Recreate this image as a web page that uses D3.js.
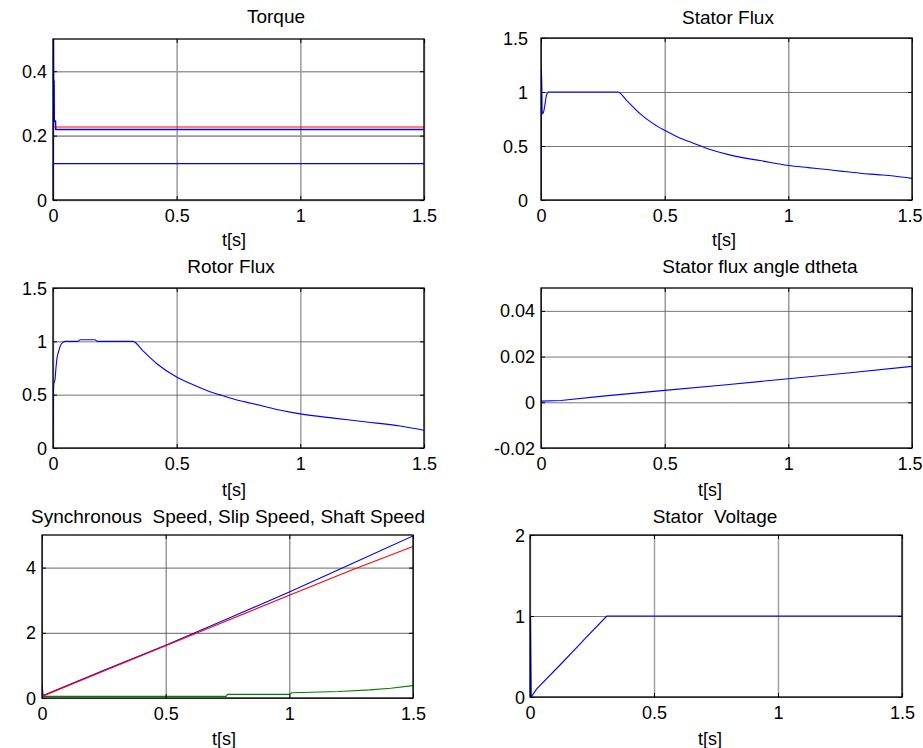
<!DOCTYPE html>
<html>
<head>
<meta charset="utf-8">
<script src="https://cdn.jsdelivr.net/npm/d3@7"></script>
<style>
  html, body { margin: 0; padding: 0; background: #ffffff; }
  svg { display: block; font-family: "Liberation Sans", Arial, Helvetica, sans-serif; }
  .pre { white-space: pre; }
</style>
</head>
<body>
<svg id="chart" width="923" height="748"></svg>
<script>
// ---------------- DATA ----------------
const timeDomain = [0, 1.5];
const xTicks = [0, 0.5, 1, 1.5];
const xTickLabels = ["0", "0.5", "1", "1.5"];
const xAxisLabel = "t[s]";

// Torque
const torqueTime = [0, 0.001, 0.002, 0.004, 0.005, 0.010, 0.011, 1.5];
const torqueElectromagnetic = [0, 0.6, 0.37, 0.37, 0.245, 0.245, 0.219, 0.219];
const torqueFlatTime = [0, 1.5];
const torqueReference = [0.2265, 0.2265];
const torqueLoad = [0.113, 0.113];
const torqueYTicks = [0, 0.2, 0.4];
const torqueYLabels = ["0", "0.2", "0.4"];

// Stator flux
const statorFluxTime = [0, 0.001, 0.003, 0.005, 0.008, 0.012, 0.017, 0.022, 0.03, 0.31, 0.347, 0.40, 0.455, 0.5, 0.55, 0.616, 0.68, 0.75, 0.82, 0.886, 1.0, 1.08, 1.156, 1.22, 1.29, 1.36, 1.426, 1.5];
const statorFlux = [0, 1.22, 1.1, 0.8, 0.8, 0.83, 0.9, 0.97, 1.0, 1.0, 0.92, 0.8, 0.705, 0.645, 0.585, 0.526, 0.47, 0.425, 0.39, 0.365, 0.32, 0.3, 0.282, 0.265, 0.248, 0.235, 0.222, 0.2];
const fluxYTicks = [0, 0.5, 1, 1.5];
const fluxYLabels = ["0", "0.5", "1", "1.5"];

// Rotor flux
const rotorFluxTime = [0, 0.001, 0.003, 0.008, 0.012, 0.016, 0.022, 0.03, 0.04, 0.05, 0.1, 0.11, 0.17, 0.18, 0.323, 0.366, 0.42, 0.5, 0.56, 0.622, 0.68, 0.73, 0.8, 0.864, 0.93, 1.0, 1.134, 1.268, 1.403, 1.5];
const rotorFlux = [0, 0.38, 0.6, 0.64, 0.75, 0.84, 0.9, 0.96, 0.99, 1.0, 1.0, 1.015, 1.015, 1.0, 1.0, 0.905, 0.79, 0.665, 0.6, 0.54, 0.495, 0.46, 0.42, 0.385, 0.35, 0.32, 0.28, 0.244, 0.206, 0.166];

// Stator flux angle dtheta
const dthetaTime = [0, 0.08, 0.25, 0.5, 0.75, 1.0, 1.25, 1.5];
const dtheta = [0.0005, 0.0008, 0.0027, 0.0052, 0.0077, 0.0103, 0.0129, 0.0157];
const dthetaYTicks = [-0.02, 0, 0.02, 0.04];
const dthetaYLabels = ["-0.02", "0", "0.02", "0.04"];

// Speeds
const syncSpeedTime = [0, 0.001, 0.004, 0.25, 0.5, 0.75, 1.0, 1.25, 1.5];
const syncSpeed = [0, 0.38, 0.08, 0.85, 1.62, 2.43, 3.25, 4.11, 4.97];
const shaftSpeedTime = [0, 0.25, 0.5, 0.75, 1.0, 1.25, 1.5];
const shaftSpeed = [0.05, 0.83, 1.6, 2.38, 3.15, 3.92, 4.65];
const slipSpeedTime = [0, 0.745, 0.75, 1.0, 1.01, 1.2, 1.325, 1.41, 1.5];
const slipSpeed = [0.05, 0.05, 0.11, 0.11, 0.16, 0.2, 0.25, 0.3, 0.38];
const speedYTicks = [0, 2, 4];
const speedYLabels = ["0", "2", "4"];

// Stator voltage
const voltageTime = [0, 0.001, 0.002, 0.004, 0.005, 0.027, 0.121, 0.21, 0.215, 0.31, 1.5];
const statorVoltage = [0, 1.0, 1.0, 0.33, 0.0, 0.1, 0.395, 0.68, 0.7, 1.0, 1.0];
const voltageYTicks = [0, 1, 2];
const voltageYLabels = ["0", "1", "2"];

// ---------------- LAYOUT ----------------
const panels = [
  { title: "Torque", box: [53, 39, 424, 200], yDomain: [0, 0.5], yTicks: torqueYTicks, yLabels: torqueYLabels,
    titleX: 276, titleY: 23, xlabX: 234, xlabY: 246, yGap: 6, gridV: "#a0a0a0", gridVW: 1.6, gridH: "#9a9a9a", gridHW: 1.6,
    series: [
      { t: torqueFlatTime, v: torqueLoad, color: "#0000ff" },
      { t: torqueTime, v: torqueElectromagnetic, color: "#0000ff", width: 1.6 },
      { t: torqueFlatTime, v: torqueReference, color: "#ff0000" }
    ] },
  { title: "Stator Flux", box: [541, 38, 912, 200], yDomain: [0, 1.5], yTicks: fluxYTicks, yLabels: fluxYLabels,
    titleX: 728, titleY: 24, xlabX: 724, xlabY: 246, yGap: 13, gridV: "#555555", gridVW: 0.9, gridH: "#777777", gridHW: 1.0,
    series: [ { t: statorFluxTime, v: statorFlux, color: "#0000ff", smooth: true } ] },
  { title: "Rotor Flux", box: [53, 288, 424, 448], yDomain: [0, 1.5], yTicks: fluxYTicks, yLabels: fluxYLabels,
    titleX: 231, titleY: 273, xlabX: 234, xlabY: 496, yGap: 6, gridV: "#a0a0a0", gridVW: 1.5, gridH: "#666666", gridHW: 0.9,
    series: [ { t: rotorFluxTime, v: rotorFlux, color: "#0000ff", smooth: true } ] },
  { title: "Stator flux angle dtheta", box: [541, 288, 912, 448], yDomain: [-0.02, 0.05], yTicks: dthetaYTicks, yLabels: dthetaYLabels,
    titleX: 760, titleY: 273, xlabX: 710, xlabY: 496, yGap: 6, gridV: "#555555", gridVW: 0.9, gridH: "#666666", gridHW: 0.9,
    series: [ { t: dthetaTime, v: dtheta, color: "#0000ff" } ] },
  { title: "Synchronous  Speed, Slip Speed, Shaft Speed", box: [42, 535, 413, 698], yDomain: [0, 5], yTicks: speedYTicks, yLabels: speedYLabels,
    titleX: 228, titleY: 523, xlabX: 224, xlabY: 745, yGap: 6, gridV: "#555555", gridVW: 0.9, gridH: "#555555", gridHW: 0.9,
    series: [
      { t: slipSpeedTime, v: slipSpeed, color: "#008000" },
      { t: syncSpeedTime, v: syncSpeed, color: "#0000ff" },
      { t: shaftSpeedTime, v: shaftSpeed, color: "#ff0000" }
    ] },
  { title: "Stator  Voltage", box: [530, 535, 902, 697], yDomain: [0, 2], yTicks: voltageYTicks, yLabels: voltageYLabels,
    titleX: 715, titleY: 523, xlabX: 710, xlabY: 745, yGap: 5, gridV: "#a0a0a0", gridVW: 1.5, gridH: "#666666", gridHW: 0.9,
    series: [ { t: voltageTime, v: statorVoltage, color: "#0000ff" } ] }
];

const FONT = 18;
const TITLE_FONT = 19;
const svg = d3.select("#chart");
const W = 923;

panels.forEach((p, idx) => {
  const [x0, y0, x1, y1] = p.box;
  const w = x1 - x0, h = y1 - y0;
  const x = d3.scaleLinear().domain(timeDomain).range([x0, x1]);
  const y = d3.scaleLinear().domain(p.yDomain).range([y1, y0]);
  const g = svg.append("g");

  // vertical grid
  const gv = g.append("g").attr("transform", `translate(0,${y1})`)
    .call(d3.axisBottom(x).tickValues(xTicks).tickSize(-h).tickFormat(""));
  gv.select(".domain").remove();
  gv.selectAll("line").attr("stroke", p.gridV).attr("stroke-width", p.gridVW);

  // horizontal grid
  const gh = g.append("g").attr("transform", `translate(${x0},0)`)
    .call(d3.axisLeft(y).tickValues(p.yTicks).tickSize(-w).tickFormat(""));
  gh.select(".domain").remove();
  gh.selectAll("line").attr("stroke", p.gridH).attr("stroke-width", p.gridHW);

  // clip
  const clipId = "clip" + idx;
  svg.append("clipPath").attr("id", clipId)
    .append("rect").attr("x", x0).attr("y", y0).attr("width", w).attr("height", h);

  const lg = g.append("g").attr("clip-path", `url(#${clipId})`);
  p.series.forEach(s => {
    const line = d3.line().x(d => x(d[0])).y(d => y(d[1]))
      .curve(s.smooth ? d3.curveMonotoneX : d3.curveLinear);
    lg.append("path").datum(d3.zip(s.t, s.v))
      .attr("fill", "none").attr("stroke", s.color).attr("stroke-width", s.width || 1.1)
      .attr("stroke-linejoin", "round")
      .attr("d", line);
  });

  // inward tick marks on all sides
  const tickLen = 4;
  const tb = g.append("g").attr("transform", `translate(0,${y1})`)
    .call(d3.axisBottom(x).tickValues(xTicks).tickSize(-tickLen).tickFormat(""));
  const tt = g.append("g").attr("transform", `translate(0,${y0})`)
    .call(d3.axisTop(x).tickValues(xTicks).tickSize(-tickLen).tickFormat(""));
  const tl = g.append("g").attr("transform", `translate(${x0},0)`)
    .call(d3.axisLeft(y).tickValues(p.yTicks).tickSize(-tickLen).tickFormat(""));
  const tr = g.append("g").attr("transform", `translate(${x1},0)`)
    .call(d3.axisRight(y).tickValues(p.yTicks).tickSize(-tickLen).tickFormat(""));
  [tb, tt, tl, tr].forEach(a => {
    a.select(".domain").remove();
    a.selectAll("line").attr("stroke", "#000").attr("stroke-width", 1);
  });

  // box
  g.append("rect").attr("x", x0).attr("y", y0).attr("width", w).attr("height", h)
    .attr("fill", "none").attr("stroke", "#000").attr("stroke-width", 1.3);

  // x tick labels
  const xl = g.append("g").attr("transform", `translate(0,${y1})`)
    .call(d3.axisBottom(x).tickValues(xTicks).tickSize(0)
      .tickFormat((d, i) => xTickLabels[i]));
  xl.select(".domain").remove();
  xl.selectAll("text").attr("y", 22).attr("dy", null)
    .attr("font-size", FONT).attr("font-family", null).attr("fill", "#000");
  // keep labels inside the page
  xl.selectAll("text").each(function(d) {
    const bb = this.getBBox();
    const right = x(d) + bb.width / 2;
    if (right > W - 1) d3.select(this).attr("x", (W - 1) - right);
  });

  // y tick labels
  const yl = g.append("g").attr("transform", `translate(${x0},0)`)
    .call(d3.axisLeft(y).tickValues(p.yTicks).tickSize(0).tickPadding(p.yGap)
      .tickFormat((d, i) => p.yLabels[i]));
  yl.select(".domain").remove();
  yl.selectAll("text").attr("dy", "0.34em")
    .attr("font-size", FONT).attr("font-family", null).attr("fill", "#000");

  // title
  g.append("text").attr("class", "pre").attr("x", p.titleX).attr("y", p.titleY)
    .attr("text-anchor", "middle").attr("font-size", TITLE_FONT).attr("fill", "#000")
    .text(p.title);

  // x axis label
  g.append("text").attr("x", p.xlabX).attr("y", p.xlabY)
    .attr("text-anchor", "middle").attr("font-size", FONT).attr("fill", "#000")
    .text(xAxisLabel);
});
</script>
</body>
</html>
